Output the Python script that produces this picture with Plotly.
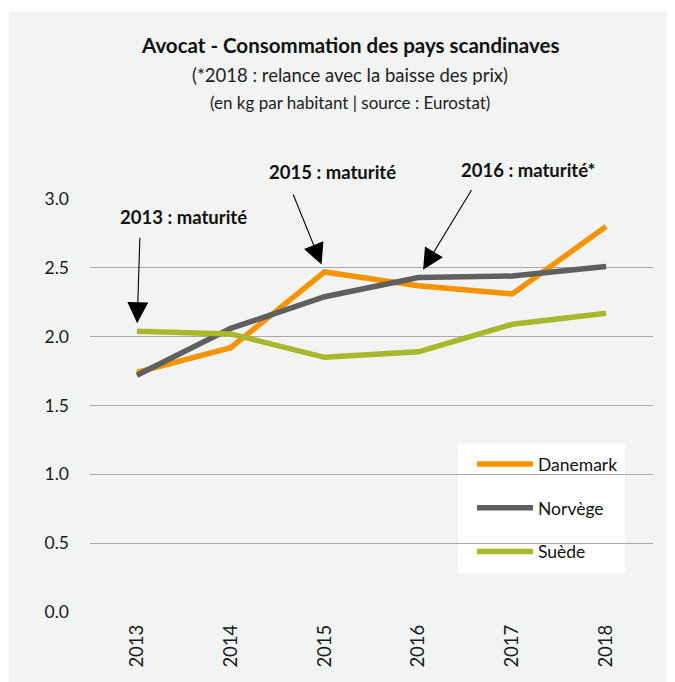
import plotly.graph_objects as go

years = ["2013", "2014", "2015", "2016", "2017", "2018"]
danemark = [1.74, 1.92, 2.47, 2.37, 2.31, 2.80]
norvege = [1.72, 2.06, 2.29, 2.43, 2.44, 2.51]
suede = [2.04, 2.02, 1.85, 1.89, 2.09, 2.17]
y_ticks = [0.0, 0.5, 1.0, 1.5, 2.0, 2.5, 3.0]

FONT = "Lato, Roboto, sans-serif"
BG = "#f2f3f3"

fig = go.Figure()
series = [("Danemark", danemark, "#f59300"), ("Norvège", norvege, "#5f5f5f"), ("Suède", suede, "#a8b82a")]
for i, (name, vals, col) in enumerate(series):
    fig.add_trace(go.Scatter(x=years, y=vals, name=name, mode="lines",
                             line=dict(color=col, width=5.5), legendgroup=f"g{i}"))

OFF = 8  # page body margin
W, H = 675 - OFF, 682 - OFF
L = 90 - OFF
T = 199 - OFF
R = W - (653 - OFF)
B = H - (611.7 - OFF)
pw, ph = W - L - R, H - T - B

def px(x):
    return (x - OFF - L) / pw

def py(y):
    return (H - B - (y - OFF)) / ph

fig.add_shape(type="rect", xref="paper", yref="paper", x0=px(9), x1=px(700), y0=py(720), y1=py(12),
              fillcolor=BG, line=dict(width=0), layer="below")
# legend box
fig.add_shape(type="rect", xref="paper", yref="paper", x0=px(458), x1=px(625), y0=py(573), y1=py(443),
              fillcolor="white", line=dict(width=0), layer="below")

ann = []
ann.append(dict(text="<b>Avocat - Consommation des pays scandinaves</b>", x=px(350), y=py(45),
                font=dict(size=20.5, color="#111")))
ann.append(dict(text="(*2018 : relance avec la baisse des prix)", x=px(350), y=py(75),
                font=dict(size=18.5, color="#222")))
ann.append(dict(text="(en kg par habitant | source : Eurostat)", x=px(350), y=py(103),
                font=dict(size=17, color="#222")))
ann.append(dict(text="<b>2013 : maturité</b>", x=px(183), y=py(217), font=dict(size=18.5, color="#111")))
ann.append(dict(text="<b>2015 : maturité</b>", x=px(332), y=py(172), font=dict(size=18.5, color="#111")))
ann.append(dict(text="<b>2016 : maturité*</b>", x=px(528), y=py(170), font=dict(size=18.5, color="#111")))
for a in ann:
    a.update(xref="paper", yref="paper", showarrow=False, xanchor="center", yanchor="middle")

arrows = [
    dict(x=years.index("2013"), y=suede[0], ax=3, ay=-95, standoff=8),
    dict(x=years.index("2015"), y=danemark[2], ax=-32, ay=-79, standoff=8),
    dict(x=years.index("2016"), y=norvege[3], ax=54, ay=-89, standoff=9),
]
for a in arrows:
    a.update(xref="x", yref="y", axref="pixel", ayref="pixel", text="", showarrow=True,
             arrowhead=2, arrowsize=3.8, arrowwidth=1.1, arrowcolor="#000")
    ann.append(a)

fig.update_layout(
    width=W, height=H,
    margin=dict(l=L, r=R, t=T, b=B, pad=0),
    paper_bgcolor="white",
    plot_bgcolor="rgba(0,0,0,0)",
    font=dict(family=FONT, color="#1a1a1a", size=17),
    annotations=ann,
    showlegend=True,
    legend=dict(x=px(472), y=py(446), xanchor="left", yanchor="top", bgcolor="rgba(0,0,0,0)",
                font=dict(size=17.5, family=FONT, color="#111"), itemwidth=56,
                tracegroupgap=18, traceorder="grouped"),
    xaxis=dict(type="category", range=[-0.5, 5.5], showgrid=False, showline=False, zeroline=False,
               tickangle=-90, tickfont=dict(size=18.5), ticklabelstandoff=8),
    yaxis=dict(range=[0, 3], tickvals=y_ticks, ticktext=[f"{v:.1f}" for v in y_ticks],
               showgrid=True, gridcolor="#a8a8a8", gridwidth=1, zeroline=False, showline=False,
               tickfont=dict(size=17.5), ticklabelstandoff=20),
)

fig.write_html("out.html")
